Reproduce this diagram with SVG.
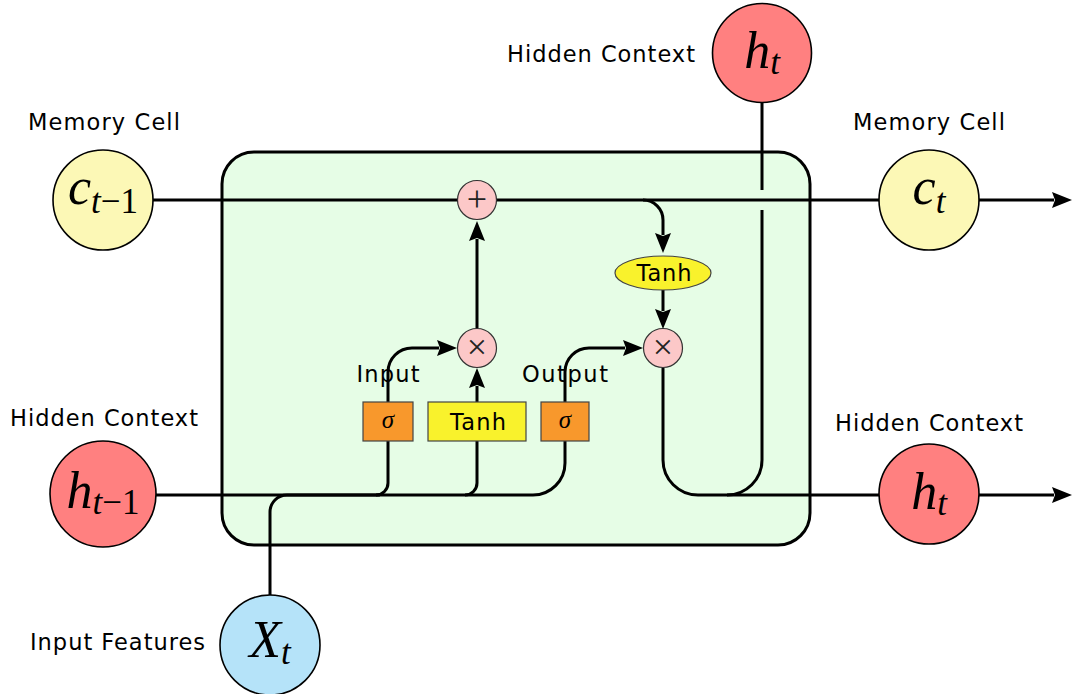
<svg xmlns="http://www.w3.org/2000/svg" width="1073" height="694" viewBox="0 0 1073 694">
  <style>
    .lbl { font-family: "DejaVu Sans", "Liberation Sans", sans-serif; font-size: 22.5px; fill: #000; }
    .math { font-family: "Liberation Serif", "DejaVu Serif", serif; font-style: italic; font-size: 52px; fill: #000; }
    .sub { font-size: 35px; }
    .up { font-style: normal; }
    .op { font-family: "Liberation Serif", "DejaVu Serif", serif; font-size: 36px; fill: #222; }
    .sig { font-family: "Liberation Serif", "DejaVu Serif", serif; font-style: italic; font-size: 25px; fill: #000; }
    .wire { fill: none; stroke: #000; stroke-width: 3; }
    .arrow { fill: none; stroke: #000; stroke-width: 3; marker-end: url(#tip); }
    .state { stroke: #000; stroke-width: 1.6; }
    .cell { fill: #fcf8b6; }
    .hid { fill: #ff8080; }
    .inp { fill: #b5e3f9; }
    .pw { fill: #fcc8c8; stroke: #333; stroke-width: 1.2; }
    .gate { fill: #f8982c; stroke: #444; stroke-width: 1.2; }
    .act { fill: #f9f22c; stroke: #444; stroke-width: 1.2; }
  </style>
  <defs>
    <marker id="tip" viewBox="0 0 20 16" refX="2" refY="8" markerWidth="20" markerHeight="16" markerUnits="userSpaceOnUse" orient="auto">
      <path d="M0,0 L20,8 L0,16 L3,8 z" fill="#000"/>
    </marker>
  </defs>

  <!-- LSTM cell body -->
  <rect id="cell-body" x="222" y="152" width="588" height="393" rx="32" ry="32" fill="#e6fde6" stroke="#000" stroke-width="3"/>

  <!-- connectors -->
  <g id="connectors">
    <!-- cell state line -->
    <path class="wire" d="M153,200 H879"/>
    <path class="arrow" d="M979,200 H1054"/>
    <!-- cell state into tanh -->
    <path class="arrow" d="M643,200 A20,20 0 0 1 663,220 V235"/>
    <path class="arrow" d="M663,290 V311"/>
    <!-- output product to hidden state -->
    <path class="wire" d="M663,368 V460 A35,35 0 0 0 698,495 H879"/>
    <path class="arrow" d="M979,495 H1054"/>
    <path class="wire" d="M727,495 A35,35 0 0 0 762,460 V210"/>
    <path class="wire" d="M762,190 V102"/>
    <!-- previous hidden state feeding the gates -->
    <path class="wire" d="M156,495 H533 A32,32 0 0 0 565,463 V441"/>
    <path class="wire" d="M376,495 A12,12 0 0 0 388,483 V441"/>
    <path class="wire" d="M465,495 A12,12 0 0 0 477,483 V441"/>
    <!-- input features -->
    <path class="wire" d="M270,595 V512 A17,17 0 0 1 287,495 H380"/>
    <!-- gate outputs -->
    <path class="arrow" d="M388,402 V372 A24,24 0 0 1 412,348 H439"/>
    <path class="arrow" d="M565,402 V372 A24,24 0 0 1 589,348 H625"/>
    <path class="arrow" d="M477,402 V386"/>
    <path class="arrow" d="M477,328 V239"/>
  </g>

  <!-- pointwise operations -->
  <g id="add">
    <circle class="pw" cx="477" cy="200" r="19.5"/>
    <text class="op" x="477" y="211" text-anchor="middle">+</text>
  </g>
  <g id="mul-in">
    <circle class="pw" cx="477" cy="348" r="19.5"/>
    <text class="op" x="477" y="359" text-anchor="middle">×</text>
  </g>
  <g id="mul-out">
    <circle class="pw" cx="663" cy="348" r="19.5"/>
    <text class="op" x="663" y="359" text-anchor="middle">×</text>
  </g>
  <g id="tanh-cell">
    <ellipse class="act" cx="663" cy="273" rx="48" ry="17"/>
    <text class="lbl" x="664" y="281" text-anchor="middle" textLength="55">Tanh</text>
  </g>

  <!-- gates -->
  <g id="gate-input">
    <rect class="gate" x="363" y="402" width="50" height="39"/>
    <text class="sig" x="388" y="428" text-anchor="middle">σ</text>
    <text class="lbl" x="388" y="382" text-anchor="middle" textLength="63">Input</text>
  </g>
  <g id="gate-candidate">
    <rect class="act" x="428" y="402" width="98" height="39"/>
    <text class="lbl" x="478" y="430" text-anchor="middle" textLength="56">Tanh</text>
  </g>
  <g id="gate-output">
    <rect class="gate" x="541" y="402" width="48" height="39"/>
    <text class="sig" x="565" y="428" text-anchor="middle">σ</text>
    <text class="lbl" x="565" y="382" text-anchor="middle" textLength="86">Output</text>
  </g>

  <!-- states -->
  <g id="c-prev">
    <circle class="state cell" cx="103" cy="200" r="50"/>
    <text class="math" x="103" y="204" text-anchor="middle">c<tspan class="sub" dy="9">t<tspan class="up">−1</tspan></tspan></text>
    <text class="lbl" x="104" y="130" text-anchor="middle" textLength="152">Memory Cell</text>
  </g>
  <g id="h-prev">
    <circle class="state hid" cx="103" cy="494" r="53"/>
    <text class="math" x="103" y="508" text-anchor="middle">h<tspan class="sub" dy="6">t<tspan class="up">−1</tspan></tspan></text>
    <text class="lbl" x="104" y="426" text-anchor="middle" textLength="188">Hidden Context</text>
  </g>
  <g id="x-in">
    <circle class="state inp" cx="270" cy="645" r="50"/>
    <text class="math" x="270" y="657" text-anchor="middle">X<tspan class="sub" dy="7">t</tspan></text>
    <text class="lbl" x="205" y="650" text-anchor="end" textLength="175">Input Features</text>
  </g>
  <g id="h-top">
    <circle class="state hid" cx="762" cy="53" r="49.5"/>
    <text class="math" x="762" y="68" text-anchor="middle">h<tspan class="sub" dy="6">t</tspan></text>
    <text class="lbl" x="695" y="62" text-anchor="end" textLength="188">Hidden Context</text>
  </g>
  <g id="c-next">
    <circle class="state cell" cx="929" cy="200" r="50"/>
    <text class="math" x="929" y="204" text-anchor="middle">c<tspan class="sub" dy="9">t</tspan></text>
    <text class="lbl" x="929" y="130" text-anchor="middle" textLength="152">Memory Cell</text>
  </g>
  <g id="h-next">
    <circle class="state hid" cx="929" cy="494" r="50"/>
    <text class="math" x="929" y="509" text-anchor="middle">h<tspan class="sub" dy="6">t</tspan></text>
    <text class="lbl" x="929" y="431" text-anchor="middle" textLength="188">Hidden Context</text>
  </g>
</svg>
